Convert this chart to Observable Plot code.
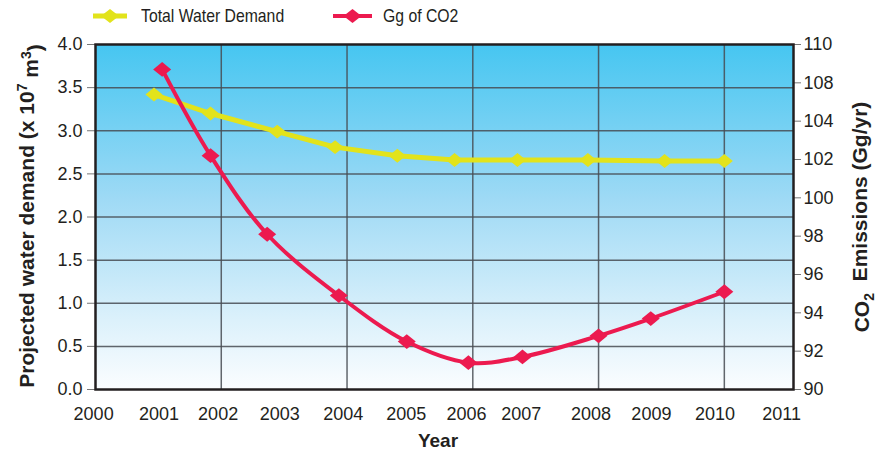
<!DOCTYPE html>
<html><head><meta charset="utf-8">
<script src="https://cdn.jsdelivr.net/npm/d3@7"></script>
<script src="https://cdn.jsdelivr.net/npm/@observablehq/plot@0.6"></script>
<style>
body{margin:0;background:#fff;font-family:"Liberation Sans",Arial,sans-serif;}
#legend{position:relative;height:32px;width:885px;}
.item{position:absolute;top:0;height:32px;display:flex;align-items:center;}
.item span{display:inline-block;font-family:"Liberation Sans",Arial,sans-serif;font-size:19px;color:#231f20;transform:scaleX(0.83);transform-origin:left center;white-space:nowrap;}
</style></head><body>
<div id="legend"></div>
<div id="chart"></div>
<script>
// ---- data ----
const years = [2001, 2002, 2003, 2004, 2005, 2006, 2007, 2008, 2009, 2010];
// horizontal position of each marker along the year axis, as drawn
const waterX = [2000.93, 2001.83, 2002.89, 2003.81, 2004.80, 2005.71, 2006.71, 2007.83, 2009.05, 2010.00];
const co2X   = [2001.06, 2001.83, 2002.73, 2003.87, 2004.95, 2005.93, 2006.79, 2008.00, 2008.83, 2010.00];
const waterDemand = [3.42, 3.20, 2.99, 2.81, 2.71, 2.66, 2.66, 2.66, 2.65, 2.65];   // x 10^7 m^3
const co2Emissions = [108.7, 102.2, 98.1, 94.9, 92.5, 91.4, 91.7, 92.8, 93.7, 95.1]; // Gg/yr
const xTickLabels = ["2000", "2001", "2002", "2003", "2004", "2005", "2006", "2007", "2008", "2009", "2010", "2011"];
// where each year label sits along the axis, as drawn
const xTickAt = [1999.97, 2001.01, 2001.95, 2002.93, 2003.94, 2004.94, 2005.90, 2006.77, 2007.88, 2008.84, 2009.85, 2010.91];
const xGrid = [2002, 2004, 2006, 2008, 2010];
const leftTicks = [0, 0.5, 1.0, 1.5, 2.0, 2.5, 3.0, 3.5, 4.0];
const rightTickLabels = [90, 92, 94, 96, 98, 100, 102, 104, 108, 110];
const seriesNames = ["Total Water Demand", "Gg of CO2"];

const yellow = "#e2e31b";
const red = "#ec1a4f";

// right axis: evenly spaced labelled ticks over the left axis range
const toLeft = d3.scaleLinear()
  .domain(rightTickLabels)
  .range(rightTickLabels.map((_, i) => i * 4 / (rightTickLabels.length - 1)));

const water = years.map((y, i) => ({year: y, x: waterX[i], v: waterDemand[i]}));
const co2 = years.map((y, i) => ({year: y, x: co2X[i], v: toLeft(co2Emissions[i])}));

const flatDiamond = (ratio) => ({
  draw(ctx, size) {
    const r = Math.sqrt(size / Math.PI), h = r * ratio;
    ctx.moveTo(-r, 0); ctx.lineTo(0, -h); ctx.lineTo(r, 0); ctx.lineTo(0, h); ctx.closePath();
  }
});

// ---- legend ----
const legend = d3.select("#legend");
const legendItems = [
  {name: seriesNames[0], color: yellow, left: 93, w: 34, gap: 14, sw: 5},
  {name: seriesNames[1], color: red, left: 333, w: 39, gap: 11, sw: 4}
];
for (const it of legendItems) {
  const div = legend.append("div").attr("class", "item").style("left", it.left + "px");
  const s = div.append("svg").attr("width", it.w).attr("height", 20);
  s.append("line").attr("x1", 0).attr("x2", it.w).attr("y1", 10).attr("y2", 10)
    .attr("stroke", it.color).attr("stroke-width", it.sw);
  const c = it.w / 2;
  s.append("path").attr("d", `M${c-9},10L${c},3L${c+9},10L${c},17Z`).attr("fill", it.color);
  div.append("span").style("margin-left", it.gap + "px").text(it.name);
}

// ---- chart ----
const gridStyle = {stroke: "#464b52", strokeOpacity: 0.85, strokeWidth: 1.5};
const plot = Plot.plot({
  width: 885, height: 421,
  marginTop: 12, marginBottom: 64, marginLeft: 95, marginRight: 92,
  style: {fontFamily: "Liberation Sans, Arial, sans-serif", fontSize: "18px", color: "#231f20", background: "transparent"},
  x: {domain: [2000, 2011.1]},
  y: {domain: [0, 4]},
  marks: [
    Plot.frame({fill: "url(#bgGrad)", stroke: null}),
    Plot.gridX(xGrid, gridStyle),
    Plot.gridY(leftTicks.slice(1, -1), gridStyle),
    Plot.axisX(xTickAt, {tickSize: 0, tickPadding: 18, tickFormat: d => xTickLabels[xTickAt.indexOf(d)], label: null, fill: "#231f20"}),
    Plot.axisY(leftTicks, {anchor: "left", tickSize: 8, tickPadding: 5, tickFormat: d => d.toFixed(1), label: null, stroke: "#777", fill: "#231f20"}),
    Plot.axisY(rightTickLabels.map(toLeft), {anchor: "right", tickSize: 7, tickPadding: 3,
      tickFormat: d => String(rightTickLabels[Math.round(d * (rightTickLabels.length - 1) / 4)]),
      label: null, stroke: "#777", fill: "#231f20"}),
    Plot.line(water, {x: "x", y: "v", stroke: yellow, strokeWidth: 5}),
    Plot.dot(water, {x: "x", y: "v", symbol: flatDiamond(0.82), r: 8.5, fill: yellow, stroke: null}),
    Plot.line(co2, {x: "x", y: "v", stroke: red, strokeWidth: 4, curve: "catmull-rom"}),
    Plot.dot(co2, {x: "x", y: "v", symbol: flatDiamond(0.82), r: 9, fill: red, stroke: null}),
    Plot.frame({stroke: "#231f20", strokeWidth: 2.5})
  ]
});

const svg = d3.select(plot);
svg.insert("defs", ":first-child").html(
  `<linearGradient id="bgGrad" x1="0" y1="0" x2="0" y2="1">
     <stop offset="0" stop-color="#46c6f1"/>
     <stop offset="0.45" stop-color="#9fdaf5"/>
     <stop offset="0.8" stop-color="#dcf1fb"/>
     <stop offset="1" stop-color="#fbfdff"/>
   </linearGradient>`);

// axis titles
const tl = svg.append("text")
  .attr("transform", "translate(27,184) rotate(-90)")
  .attr("text-anchor", "middle").attr("dy", "0.35em")
  .attr("font-weight", "bold").attr("font-size", 21).attr("fill", "#231f20");
tl.append("tspan").text("Projected water demand (x 10");
tl.append("tspan").attr("font-size", 14).attr("dy", "-0.55em").text("7");
tl.append("tspan").attr("dy", "0.55em").text(" m");
tl.append("tspan").attr("font-size", 14).attr("dy", "-0.55em").text("3");
tl.append("tspan").attr("dy", "0.55em").text(")");

const tr = svg.append("text")
  .attr("transform", "translate(862,185) rotate(-90)")
  .attr("text-anchor", "middle").attr("dy", "0.35em")
  .attr("font-weight", "bold").attr("font-size", 21).attr("fill", "#231f20");
tr.append("tspan").text("CO");
tr.append("tspan").attr("font-size", 14).attr("dy", "0.35em").text("2");
tr.append("tspan").attr("dy", "-0.35em").text("\u00a0 Emissions (Gg/yr)");

svg.append("text").attr("x", 438).attr("y", 415).attr("text-anchor", "middle")
  .attr("font-weight", "bold").attr("font-size", 19).attr("fill", "#231f20").text("Year");

document.getElementById("chart").appendChild(plot);
</script>
</body></html>
